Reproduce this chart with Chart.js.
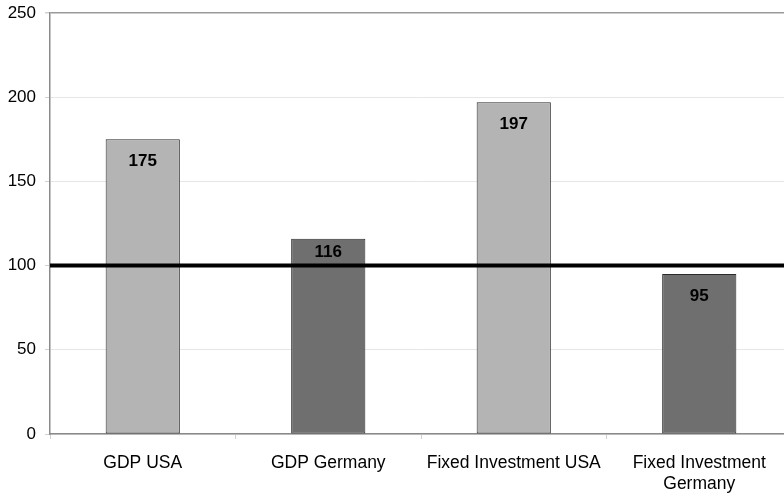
<!DOCTYPE html>
<html>
<head>
<meta charset="utf-8">
<script src="https://cdn.jsdelivr.net/npm/chart.js@4"></script>
<style>
  html, body { margin: 0; padding: 0; background: #fff; overflow: hidden; }
  #wrap { width: 800px; height: 493px; }
</style>
</head>
<body>
<div id="wrap"><canvas id="chart"></canvas></div>
<script>
const categories = ["GDP USA", "GDP Germany", "Fixed Investment USA", ["Fixed Investment", "Germany"]];
const values = [175, 116, 197, 95];
const barColors = ["#b4b4b4", "#6f6f6f", "#b4b4b4", "#6f6f6f"];
const baseline = 100;
const yTicks = [0, 50, 100, 150, 200, 250];

const FONT = "'Liberation Sans', Arial, sans-serif";

// thick reference line at the baseline value, drawn over the bars
const baselinePlugin = {
  id: "baseline",
  afterDatasetsDraw(chart) {
    const { ctx, chartArea, scales } = chart;
    const y = scales.y.getPixelForValue(baseline);
    ctx.save();
    ctx.strokeStyle = "#000";
    ctx.lineWidth = 4;
    ctx.beginPath();
    ctx.moveTo(chartArea.left, y);
    ctx.lineTo(chartArea.right, y);
    ctx.stroke();

    // value labels inside the top of each bar
    const meta = chart.getDatasetMeta(0);
    ctx.font = "bold 17px " + FONT;
    ctx.fillStyle = "#000";
    ctx.textAlign = "center";
    ctx.textBaseline = "middle";
    meta.data.forEach((bar, i) => {
      let ty = bar.y + 22;
      if (Math.abs(ty - y) < 10) ty = bar.y + 14;
      ctx.fillText(String(values[i]), bar.x, ty);
    });
    ctx.restore();
  },
};

new Chart(document.getElementById("chart"), {
  type: "bar",
  data: {
    labels: categories,
    datasets: [
      {
        data: values,
        backgroundColor: barColors,
        borderColor: "#2a2a2a",
        borderWidth: 1,
        borderSkipped: false,
        categoryPercentage: 1,
        barPercentage: 0.4,
      },
    ],
  },
  options: {
    animation: false,
    responsive: true,
    maintainAspectRatio: false,
    layout: {
      padding: { top: 13, right: 8, left: 0, bottom: 0 },
    },
    plugins: {
      legend: { display: false },
      tooltip: { enabled: false },
    },
    scales: {
      x: {
        offset: true,
        grid: {
          offset: true,
          drawOnChartArea: false,
          color: "#d0d0d0",
          tickLength: 5,
        },
        border: { color: "#8a8a8a", width: 1.5 },
        ticks: {
          color: "#000",
          font: { family: FONT, size: 17.5, lineHeight: 1.22 },
          padding: 13,
          maxRotation: 0,
          autoSkip: false,
        },
        afterFit: (axis) => {
          axis.height = 59;
        },
      },
      y: {
        min: 0,
        max: 250,
        afterBuildTicks: (axis) => {
          axis.ticks = yTicks.map((v) => ({ value: v }));
        },
        grid: {
          color: (c) => (c.tick && c.tick.value === 250 ? "#9a9a9a" : "#e6e6e6"),
          lineWidth: (c) => (c.tick && c.tick.value === 250 ? 1.5 : 1),
          tickLength: 5,
          tickColor: "#d0d0d0",
        },
        border: { color: "#8a8a8a", width: 1.5 },
        ticks: {
          color: "#000",
          font: { family: FONT, size: 17 },
          padding: 9,
        },
        afterFit: (axis) => {
          axis.width = 50;
          axis.paddingTop = 0;
          axis.paddingBottom = 0;
        },
      },
    },
  },
  plugins: [baselinePlugin],
});
</script>
</body>
</html>
